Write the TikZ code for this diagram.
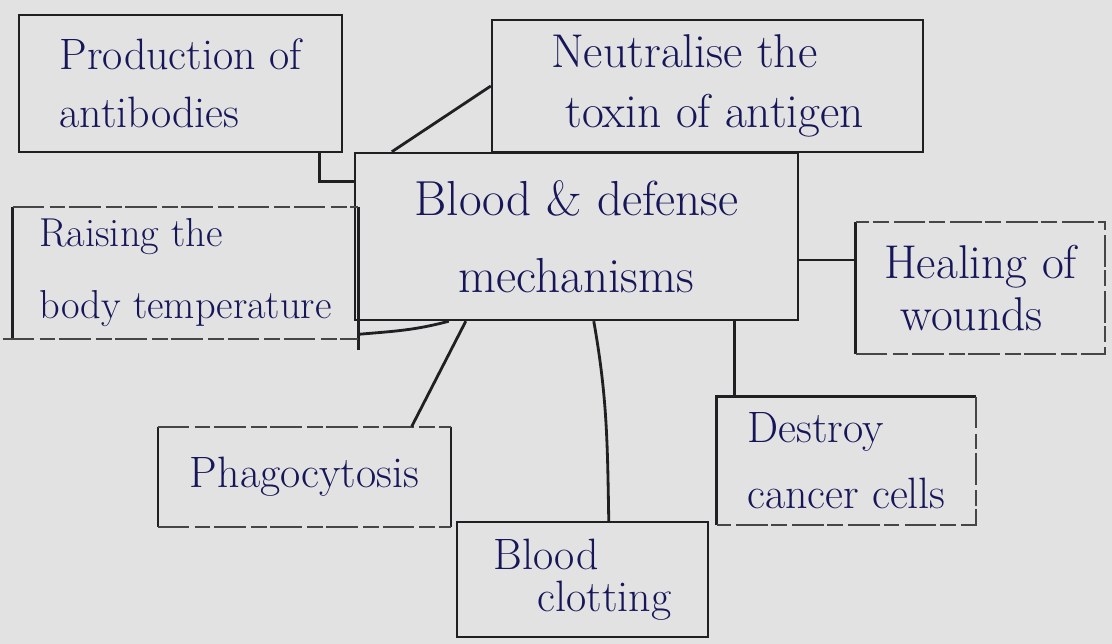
\documentclass[tikz,border=0pt]{standalone}
\usepackage{fontspec}

\definecolor{paperGrey}{RGB}{226,226,227}
\definecolor{inkNavy}{RGB}{22,22,88}
\definecolor{penDark}{RGB}{32,32,34}
\definecolor{pencilGrey}{RGB}{70,70,72}

\newcommand{\inkfont}[2]{\fontsize{#1}{#2}\selectfont}

\begin{document}
\begin{tikzpicture}[
        x=0.02cm, y=-0.02cm,
        every node/.style={text=inkNavy, inner sep=0pt, align=left},
        inkBox/.style={draw=penDark, line width=1.4pt},
        inkEdge/.style={penDark, line width=1.4pt},
        thinEdge/.style={penDark, line width=1.0pt},
        pencilEdge/.style={pencilGrey, line width=1.1pt, dash pattern=on 18pt off 3pt on 9pt off 2pt},
        linkLine/.style={penDark, line width=1.6pt}
    ]
        \fill[paperGrey] (0,0) rectangle (1112,644);
        \useasboundingbox (0,0) rectangle (1112,644);

        % Central topic
        \node[inkBox, align=center, minimum width=8.86cm, minimum height=3.34cm,
              font=\inkfont{28}{44}] (ctr) at (576.5,236.5)
              {Blood \& defense\\mechanisms};

        % Boxes drawn in ink
        \node[inkBox, minimum width=6.46cm, minimum height=2.74cm,
              font=\inkfont{25}{33}] (prod) at (180.5,83.5)
              {Production of\\antibodies};
        \node[inkBox, minimum width=8.62cm, minimum height=2.64cm,
              font=\inkfont{27}{34}] (neut) at (707.5,86)
              {Neutralise the\\\hspace*{0.3em}toxin of antigen};
        \node[inkBox, minimum width=5.02cm, minimum height=2.3cm,
              font=\inkfont{25}{24}] (clot) at (582.5,579.5)
              {Blood\\\hspace*{1em}clotting};

        % Boxes with partly pencilled sides
        \node[minimum width=6.9cm, minimum height=2.64cm,
              font=\inkfont{23}{41}] (raise) at (185.5,273)
              {Raising the\\body temperature};
        \draw[inkEdge] (raise.north west) -- (raise.south west);
        \draw[inkEdge] (raise.north east) -- ([yshift=-0.22cm]raise.south east);
        \draw[pencilEdge] (raise.north west) -- (raise.north east);
        \draw[pencilEdge] ([xshift=-0.2cm]raise.south west) -- (raise.south east);

        \node[minimum width=4.98cm, minimum height=2.64cm,
              font=\inkfont{27}{30}] (heal) at (980.5,288)
              {Healing of\\\hspace*{0.35em}wounds};
        \draw[inkEdge] (heal.north west) -- (heal.south west);
        \draw[pencilEdge] (heal.south west) -- (heal.south east) -- (heal.north east) -- (heal.north west);

        \node[minimum width=5.18cm, minimum height=2.56cm,
              font=\inkfont{25}{37.5}] (dest) at (846.5,461)
              {Destroy\\cancer cells};
        \draw[inkEdge] (dest.south west) -- (dest.north west) -- (dest.north east);
        \draw[pencilEdge] (dest.north east) -- (dest.south east) -- (dest.south west);

        \node[minimum width=5.86cm, minimum height=2.0cm,
              font=\inkfont{25}{30}] (phago) at (304.5,477)
              {Phagocytosis};
        \draw[thinEdge] (phago.north west) -- (phago.south west);
        \draw[thinEdge] (phago.north east) -- (phago.south east);
        \draw[pencilEdge] (phago.north west) -- (phago.north east);
        \draw[pencilEdge] (phago.south west) -- (phago.south east);

        % Links to the central topic
        \draw[linkLine] ([xshift=-0.48cm]prod.south east) |- ([yshift=-0.6cm]ctr.north west);
        \draw[linkLine] (neut.west) -- ([xshift=0.76cm]ctr.north west);
        \draw[linkLine] ([yshift=0.1cm]raise.south east) to[out=5, in=195] ([xshift=1.9cm]ctr.south west);
        \draw[linkLine] ([xshift=2.24cm]ctr.south west) -- ([xshift=5.08cm]phago.north west);
        \draw[linkLine] ([xshift=4.8cm]ctr.south west) to[out=-80, in=91] ([xshift=3.06cm]clot.north west);
        \draw[linkLine] ([xshift=0.36cm]dest.north west |- ctr.south) -- ([xshift=0.36cm]dest.north west);
        \draw[linkLine] ([yshift=-0.47cm]ctr.east) -- ([yshift=-0.47cm]ctr.east -| heal.west);
\end{tikzpicture}
\end{document}
